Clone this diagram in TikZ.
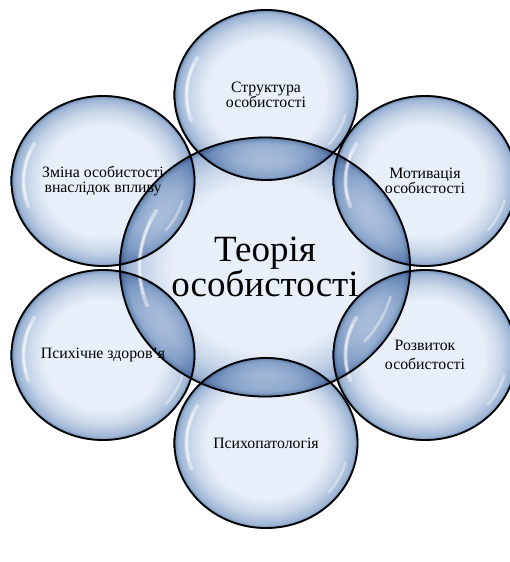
\documentclass[tikz,border=0pt]{standalone}
\usepackage{fontspec}
\setmainfont{Liberation Serif}
\usetikzlibrary{positioning, shapes.geometric, backgrounds, calc}

\definecolor{bubin}{HTML}{E9EFF8}
\definecolor{bubmid}{HTML}{C8D6E9}
\definecolor{bubdeep}{HTML}{9DB5D5}
\definecolor{bubout}{HTML}{6284AD}
\pgfdeclareradialshading{bubbleshade}{\pgfpoint{0bp}{0bp}}{color(0bp)=(bubin); color(16bp)=(bubin); color(20.5bp)=(bubmid); color(23.8bp)=(bubdeep); color(25bp)=(bubout); color(50bp)=(bubout)}

\begin{document}
\begin{tikzpicture}[
        x=1pt, y=1pt,
        bubble/.style={draw=black, line width=1.8pt, ellipse, inner sep=0pt, align=center, font=\fontsize{15.8}{15.5}\selectfont},
        outer/.style={bubble, minimum width=183pt, minimum height=170pt},
        core/.style={bubble, minimum width=290pt, minimum height=259pt, font=\fontsize{37}{33}\selectfont},
        gloss/.style={white, line width=4pt, line cap=round, opacity=.45},
    ]
    \useasboundingbox (0,0) rectangle (510,562);

    % Central bubble
    \node[core] (theory) at (265,295) {Теорія\\особистості};

    % Outer bubbles, clockwise from the top
    \node[outer] (struct) at (266,467) {Структура\\особистості};
    \node[outer] (motiv) at (425,381) {Мотивація\\особистості};
    \node[outer, font=\fontsize{15.8}{19.5}\selectfont] (rozv) at (425,207) {Розвиток\\особистості};
    \node[outer] (pato) at (266,119) {Психопатологія};
    \node[outer] (zdorov) at (103,207) {Психічне здоров'я};
    \node[outer] (zmina) at (103,381) {Зміна особистості\\внаслідок впливу};

    % Glassy fills behind the outlines
    \begin{scope}[on background layer]
        \shade[shading=bubbleshade] let \p1=($(theory.east)-(theory.center)$), \p2=($(theory.north)-(theory.center)$) in
            (theory.center) ellipse [x radius=\x1, y radius=\y2];
        \foreach \b in {struct, motiv, rozv, pato, zdorov, zmina}
            \shade[shading=bubbleshade, blend mode=multiply] let \p1=($(\b.east)-(\b.center)$), \p2=($(\b.north)-(\b.center)$) in
                (\b.center) ellipse [x radius=\x1, y radius=\y2];
        % highlights
        \foreach \b in {theory, struct, motiv, rozv, pato, zdorov, zmina} {
            \draw[gloss] let \p1=($(\b.east)-(\b.center)$), \p2=($(\b.north)-(\b.center)$) in
                ($(\b.center)+({0.86*\x1*cos(150)},{0.86*\y2*sin(150)})$) arc [start angle=150, end angle=200, x radius=0.86*\x1, y radius=0.86*\y2];
            \draw[gloss, opacity=.6, line width=1.5pt] let \p1=($(\b.east)-(\b.center)$), \p2=($(\b.north)-(\b.center)$) in
                ($(\b.center)+({0.86*\x1*cos(156)},{0.86*\y2*sin(156)})$) arc [start angle=156, end angle=194, x radius=0.86*\x1, y radius=0.86*\y2];
            \draw[gloss, opacity=.4, line width=2.5pt] let \p1=($(\b.east)-(\b.center)$), \p2=($(\b.north)-(\b.center)$) in
                ($(\b.center)+({0.89*\x1*cos(-40)},{0.89*\y2*sin(-40)})$) arc [start angle=-40, end angle=-15, x radius=0.89*\x1, y radius=0.89*\y2];
        }
    \end{scope}
\end{tikzpicture}
\end{document}
